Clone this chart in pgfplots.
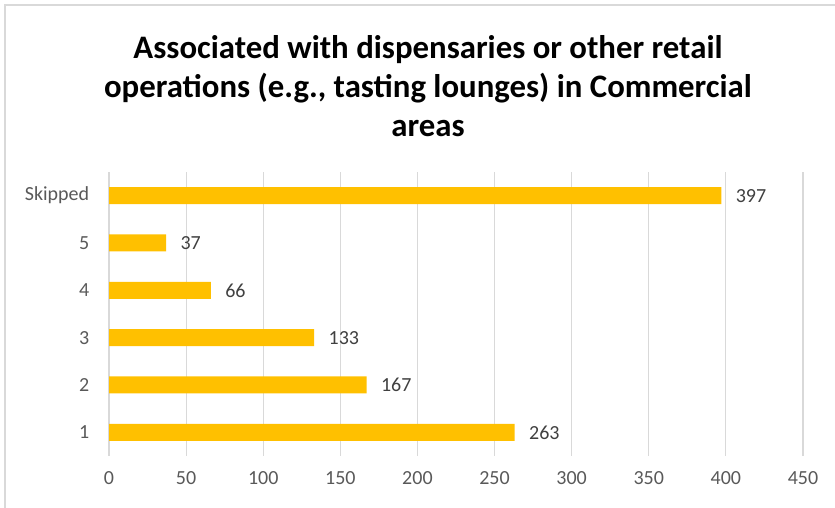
\documentclass[border=0pt]{standalone}
\usepackage{pgfplots}
\pgfplotsset{compat=1.18}
\usepackage{fontspec}
\setmainfont{Carlito}
\definecolor{barc}{HTML}{FFC000}
\definecolor{gridc}{HTML}{D9D9D9}
\definecolor{tickc}{HTML}{595959}
\definecolor{labc}{HTML}{404040}
\begin{document}
\begin{tikzpicture}[x=1pt,y=1pt]
\path[use as bounding box] (0,0) rectangle (835,508);
\draw[color=gridc, line width=1.5pt] (5,0) -- (5,503) -- (835,503);
\node[font=\fontsize{32.8}{39}\selectfont\bfseries, align=center] at (428,422) {Associated with dispensaries or other retail\\operations (e.g., tasting lounges) in Commercial\\areas};
\begin{axis}[at={(109pt,52pt)}, anchor=south west, scale only axis,
  width=694pt, height=284pt,
  xmin=0, xmax=450, ymin=-0.5, ymax=5.5,
  xbar, bar width=17pt,
  xtick={0,50,...,450}, ytick={0,...,5},
  yticklabels={1,2,3,4,5,Skipped},
  xmajorgrids, grid style={gridc, line width=1.2pt},
  axis line style={draw=none}, tick style={draw=none},
  ticklabel style={font=\fontsize{20}{24}\selectfont, text=tickc},
  xticklabel style={yshift=-12pt},
  yticklabel style={xshift=-12pt},
  /pgf/number format/assume math mode=true,
  nodes near coords,
  nodes near coords style={font=\fontsize{20}{24}\selectfont, text=labc, anchor=west, xshift=11pt},
]
\addplot[fill=barc, draw=none] coordinates {(263,0) (167,1) (133,2) (66,3) (37,4) (397,5)};
\end{axis}
\end{tikzpicture}
\end{document}
